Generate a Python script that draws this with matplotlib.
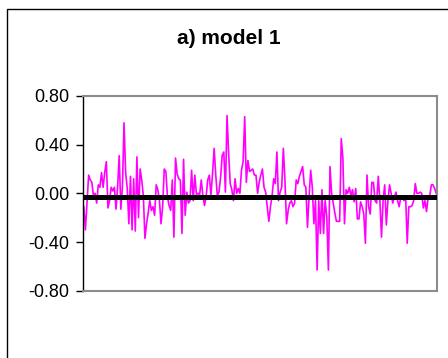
import matplotlib
matplotlib.use("Agg")
import matplotlib.pyplot as plt
from matplotlib.patches import Rectangle

title = "a) model 1"
yticks = [-0.80, -0.40, 0.00, 0.40, 0.80]
ytick_labels = ["-0.80", "-0.40", "0.00", "0.40", "0.80"]
zero_line = -0.03

residuals = [
    -0.11, -0.30, -0.07, 0.15, 0.11, 0.09, -0.02, 0.0, -0.08, 0.07, 0.05, 0.17, 0.05, 0.17, 0.26,
    -0.12, -0.06, 0.05, 0.02, 0.05, -0.13, 0.05, 0.31, -0.13, 0.05, 0.58, 0.17, 0.04, -0.25, 0.14,
    -0.30, 0.12, -0.31,
    0.30, -0.20, 0.20, 0.11, -0.02, -0.37, -0.25, -0.16, -0.06, -0.14, -0.11, -0.18, 0.07, 0.03,
    -0.06, -0.25, -0.11, 0.20, 0.18, -0.03, -0.10, -0.14, 0.11, -0.36, 0.29, 0.16, 0.12, 0.11,
    -0.33, 0.28, -0.18, 0.01, -0.08, -0.06, 0.19, -0.06,
    0.15, -0.01, 0.0, -0.01, 0.11, -0.02, -0.10, -0.03, 0.11, 0.15, -0.02, 0.16, 0.37, 0.15,
    -0.02, 0.01, 0.13, 0.31, 0.34, 0.01, 0.64, 0.33, 0.08, 0.03, -0.06, 0.12, 0.0, 0.04, 0.0,
    0.19, 0.26, 0.63, 0.09, 0.27, 0.18, 0.19, 0.20,
    0.15, 0.15, 0.0, 0.09, 0.15, 0.20, 0.05, 0.01, -0.11, -0.23, -0.11, -0.02, 0.12, 0.08, 0.34,
    -0.06, 0.01, 0.05, 0.37, 0.11, -0.25, -0.14, -0.08, -0.06, -0.11, -0.08, 0.11, 0.08, 0.14,
    0.18, 0.22, 0.07, 0.05, -0.28, -0.03, 0.19, 0.05, -0.25,
    -0.06, -0.63, -0.06, -0.33, 0.03, -0.33, -0.06, -0.19, -0.63, 0.22, 0.0, -0.08, -0.16, -0.23,
    -0.23, -0.23, 0.45, 0.29, -0.25, 0.03, 0.0, 0.05, -0.02, 0.03, -0.07, 0.04, -0.21, -0.21,
    -0.07, -0.11, -0.17, -0.41, 0.15, -0.11, -0.17, 0.09,
    0.09, -0.06, -0.08, 0.14, -0.06, -0.36, -0.06, 0.07, -0.26, -0.06, 0.07, 0.0, -0.08, -0.03,
    0.01, -0.06, -0.11, -0.03, -0.03, -0.06, -0.02, -0.41, -0.11, -0.11, -0.10, -0.06, 0.08, 0.0,
    0.0, 0.01, 0.0, -0.12, -0.06, -0.15, -0.03, -0.02, 0.07, 0.07, 0.04, 0.0,
]

plt.rcParams['font.family'] = ['Liberation Sans', 'DejaVu Sans']

fig = plt.figure(figsize=(4.48, 3.58), dpi=100)
fig.patch.set_facecolor('white')
# outer chart-area border (left/top visible, right/bottom cut off)
fig.patches.append(Rectangle((7 / 448, -0.05), 1.2, 1 - 9 / 358 + 0.05,
                             transform=fig.transFigure, fill=False,
                             edgecolor='black', linewidth=1.0))

ax = fig.add_axes([83 / 448, 1 - 290.7 / 358, (437 - 83) / 448, (290.7 - 96) / 358])
n = len(residuals)
x = list(range(n))
ax.plot(x, residuals, color='#FF00FF', linewidth=1.2, zorder=2)
ax.axhline(zero_line, color='black', linewidth=3.6, zorder=3)

ax.set_xlim(-0.5, n - 0.5)
ax.set_ylim(-0.8, 0.8)
ax.set_yticks(yticks)
ax.set_yticklabels(ytick_labels)
ax.set_xticks([])
ax.tick_params(axis='y', direction='out', length=5, width=1, pad=5, labelsize=13, colors='black')

for side in ['top', 'right', 'bottom']:
    ax.spines[side].set_color('#8c8c8c')
    ax.spines[side].set_linewidth(1.5)
ax.spines['left'].set_color('black')
ax.spines['left'].set_linewidth(1.0)

fig.text(229 / 448, 1 - 38 / 358, title, ha='center', va='center',
         fontsize=15, fontweight='bold')

fig.savefig('out.png', dpi=100)
